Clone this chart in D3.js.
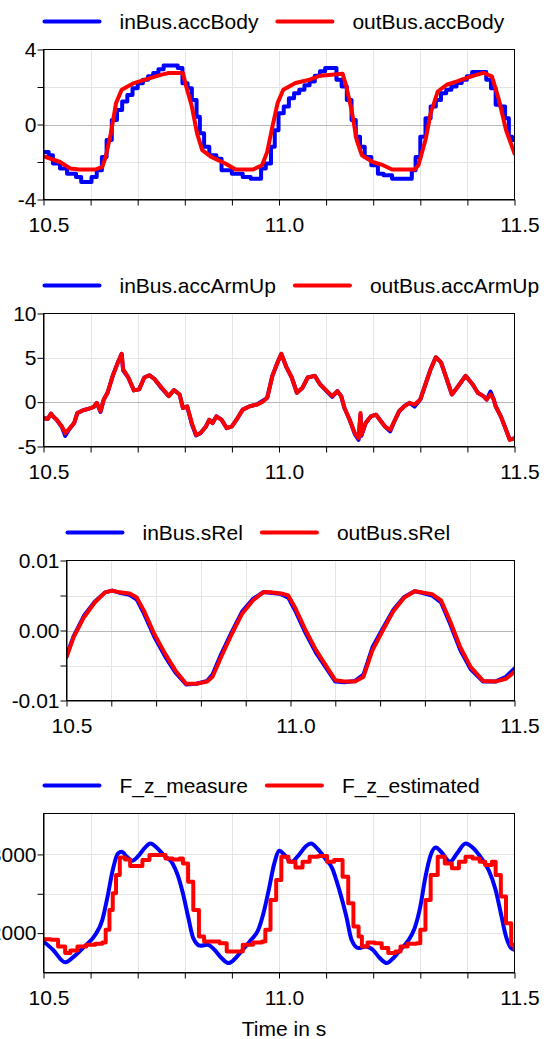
<!DOCTYPE html>
<html>
<head>
<meta charset="utf-8">
<script src="https://cdn.jsdelivr.net/npm/d3@7"></script>
<style>
body { margin: 0; background: #fff; }
</style>
</head>
<body>
<div id="viz"></div>
<script>

var width = 551
var height = 1039

// shared time axis
var xTicks = [10.5, 10.6, 10.7, 10.8, 10.9, 11.0, 11.1, 11.2, 11.3, 11.4, 11.5]
var xTickLabels = [10.5, 11.0, 11.5]

// panel 1 : accBody
var accBodyNames = ["inBus.accBody", "outBus.accBody"]
var accBodyInT = [10.500,10.511,10.520,10.535,10.550,10.569,10.580,10.602,10.613,10.624,10.634,10.645,10.656,10.667,10.678,10.689,10.700,10.711,10.722,10.733,10.744,10.755,10.785,10.795,10.806,10.815,10.825,10.832,10.841,10.852,10.867,10.878,10.900,10.923,10.940,10.962,10.972,10.983,10.991,10.999,11.010,11.021,11.032,11.043,11.054,11.065,11.076,11.087,11.098,11.122,11.133,11.144,11.154,11.163,11.172,11.182,11.196,11.210,11.222,11.240,11.282,11.290,11.300,11.311,11.322,11.333,11.344,11.355,11.366,11.377,11.388,11.399,11.410,11.440,11.450,11.460,11.470,11.480,11.488,11.495,11.500]
var accBodyInV = [-1.46,-1.64,-2.08,-2.35,-2.62,-2.80,-3.07,-2.80,-2.44,-1.73,-0.83,0.24,0.78,1.23,1.58,1.94,2.20,2.39,2.57,2.75,2.95,3.15,3.02,2.20,1.94,1.31,0.42,-0.47,-1.19,-1.64,-1.82,-2.44,-2.62,-2.80,-2.89,-2.35,-2.08,-1.19,-0.30,0.60,0.96,1.40,1.67,1.85,2.10,2.30,2.60,2.84,3.02,2.39,2.03,1.31,0.24,-0.65,-1.19,-1.73,-2.17,-2.62,-2.71,-2.89,-2.44,-1.73,-0.65,0.33,0.96,1.31,1.67,1.85,2.03,2.21,2.39,2.57,2.80,2.39,1.94,1.05,0.96,0.33,-0.65,-0.83,-0.83]
var accBodyOutT = [10.500,10.535,10.557,10.575,10.610,10.625,10.632,10.643,10.654,10.666,10.692,10.721,10.751,10.766,10.796,10.803,10.815,10.826,10.837,10.856,10.886,10.908,10.945,10.964,10.975,10.986,10.997,11.009,11.035,11.065,11.087,11.135,11.143,11.154,11.165,11.176,11.199,11.221,11.240,11.288,11.296,11.311,11.322,11.337,11.356,11.378,11.408,11.434,11.452,11.467,11.482,11.500]
var accBodyOutV = [-1.69,-2.00,-2.35,-2.40,-2.40,-2.26,-1.73,-0.47,1.14,1.85,2.21,2.43,2.66,2.75,2.75,2.03,0.96,-0.47,-1.37,-1.73,-2.08,-2.40,-2.40,-2.17,-1.46,-0.12,1.14,1.85,2.21,2.39,2.60,2.71,2.03,0.78,-0.83,-1.64,-2.00,-2.17,-2.40,-2.40,-2.17,-0.83,0.60,1.76,2.12,2.30,2.57,2.75,2.57,1.31,-0.30,-1.55]
var accBodyTicks = [-4, -2, 0, 2, 4]
var accBodyLabels = [-4, 0, 4]

// panel 2 : accArmUp
var accArmNames = ["inBus.accArmUp", "outBus.accArmUp"]
var accArmT = [10.5,10.509,10.516,10.52,10.528,10.539,10.546,10.554,10.565,10.572,10.584,10.595,10.606,10.613,10.621,10.628,10.636,10.647,10.658,10.666,10.669,10.68,10.692,10.703,10.714,10.725,10.736,10.751,10.766,10.777,10.789,10.796,10.805,10.815,10.824,10.833,10.845,10.852,10.859,10.867,10.878,10.889,10.9,10.912,10.923,10.938,10.953,10.964,10.975,10.986,10.997,11.005,11.016,11.027,11.038,11.05,11.061,11.076,11.087,11.102,11.113,11.124,11.132,11.139,11.15,11.161,11.169,11.173,11.175,11.184,11.195,11.206,11.214,11.225,11.236,11.243,11.255,11.266,11.277,11.288,11.3,11.311,11.322,11.333,11.344,11.355,11.367,11.378,11.396,11.411,11.422,11.434,11.441,11.449,11.456,11.46,11.471,11.482,11.49,11.5]
var accArmInV = [-1.79,-1.9,-1.29,-1.6,-1.98,-2.8,-3.8,-3.1,-2.36,-1.22,-0.91,-0.76,-0.57,-0.1,-1.1,0.3,1.06,2.97,4.49,5.44,3.6,2.78,1.33,1.44,2.78,3.04,2.59,1.55,0.68,1.37,0.87,-0.65,-0.5,-2.5,-3.75,-3.5,-2.74,-1.98,-2.36,-1.6,-1.98,-2.93,-2.74,-1.79,-0.84,-0.46,-0.27,0.1,0.49,2.97,4.49,5.44,3.92,2.78,1.06,1.63,2.78,2.97,2.02,1.2,0.6,1.25,0.68,-0.65,-1.98,-3.6,-4.25,-1.4,-3.8,-2.36,-1.6,-1.41,-1.98,-2.74,-3.3,-2.4,-1.03,-0.46,-0.08,-0.5,0.3,2.02,3.73,5.06,4.49,2.78,0.87,1.63,2.97,2.02,1.06,0.68,0.3,1.2,0.3,-0.46,-1.6,-3.12,-4.2,-4.1]
var accArmOutV = [-1.79,-1.9,-1.29,-1.6,-1.98,-2.74,-3.5,-3.04,-2.36,-1.22,-0.91,-0.76,-0.57,-0.08,-1.03,0.3,1.06,2.97,4.49,5.44,3.73,2.78,1.33,1.44,2.78,3.04,2.59,1.63,0.68,1.37,0.87,-0.65,-0.46,-2.36,-3.69,-3.5,-2.74,-1.98,-2.36,-1.6,-1.98,-2.93,-2.74,-1.79,-0.84,-0.46,-0.27,0,0.49,2.97,4.49,5.44,3.92,2.78,1.06,1.63,2.78,2.97,2.02,1.25,0.68,1.25,0.68,-0.65,-1.98,-3.5,-4.07,-1.22,-3.69,-2.36,-1.6,-1.41,-1.98,-2.74,-3.12,-2.36,-1.03,-0.46,-0.08,-0.27,0.3,2.02,3.73,5.06,4.49,2.78,0.87,1.63,2.97,2.02,1.06,0.68,0.3,0.87,0.3,-0.46,-1.6,-3.12,-4.26,-4.07]
var accArmTicks = [-5, 0, 5, 10]
var accArmLabels = [-5, 0, 5, 10]

// panel 3 : sRel
var sRelNames = ["inBus.sRel", "outBus.sRel"]
var sRelT = [10.5,10.516,10.539,10.563,10.586,10.602,10.618,10.641,10.657,10.673,10.696,10.72,10.743,10.767,10.79,10.814,10.826,10.845,10.869,10.892,10.916,10.94,10.955,10.979,10.995,11.01,11.034,11.057,11.081,11.1,11.12,11.144,11.163,11.183,11.206,11.23,11.254,11.277,11.293,11.316,11.336,11.356,11.379,11.402,11.43,11.457,11.481,11.5]
var sRelInV = [-0.0036,-0.0008,0.0021,0.0041,0.00545,0.0057,0.0054,0.0051,0.0044,0.0024,-0.0009,-0.0037,-0.006,-0.0077,-0.0076,-0.0072,-0.0063,-0.0034,-0.0002,0.0027,0.0045,0.0055,0.0054,0.0052,0.0047,0.0029,-0.0004,-0.0032,-0.0055,-0.0073,-0.0074,-0.0072,-0.0063,-0.0024,0.0003,0.003,0.0048,0.0056,0.0054,0.005,0.004,0.001,-0.0028,-0.0055,-0.0073,-0.0073,-0.0066,-0.0054]
var sRelOutV = [-0.0038,-0.00095,0.0019,0.004,0.00545,0.0057,0.00545,0.0053,0.0047,0.0028,-0.0005,-0.0033,-0.0057,-0.0076,-0.0076,-0.0073,-0.0066,-0.0038,-0.0005,0.0024,0.0043,0.0055,0.00545,0.0053,0.005,0.0033,0,-0.0028,-0.0052,-0.0071,-0.0073,-0.0073,-0.0066,-0.0028,0,0.0028,0.0047,0.0056,0.00545,0.0052,0.0043,0.0014,-0.0024,-0.0052,-0.0072,-0.0073,-0.0069,-0.0059]
var sRelTicks = [-0.01, -0.005, 0, 0.005, 0.01]
var sRelLabels = [-0.01, 0, 0.01]

// panel 4 : F_z
var fzNames = ["F_z_measure", "F_z_estimated"]
var fzMeasureT = [10.5,10.52,10.546,10.565,10.587,10.61,10.625,10.636,10.647,10.658,10.666,10.677,10.688,10.703,10.714,10.727,10.74,10.755,10.774,10.785,10.796,10.807,10.818,10.833,10.848,10.863,10.878,10.893,10.908,10.923,10.941,10.956,10.967,10.979,10.99,11.001,11.012,11.027,11.042,11.057,11.068,11.083,11.098,11.113,11.128,11.143,11.154,11.169,11.184,11.199,11.214,11.229,11.243,11.258,11.273,11.288,11.3,11.311,11.322,11.333,11.344,11.363,11.378,11.396,11.411,11.43,11.445,11.46,11.471,11.482,11.493,11.5]
var fzMeasureV = [1895,1789,1629,1705,1831,1979,2169,2464,2802,3013,3034,2970,2920,2992,3076,3139,3089,2992,2886,2738,2506,2211,1937,1840,1852,1789,1684,1620,1684,1789,1916,2042,2253,2570,2886,3046,2992,2907,2992,3105,3139,3063,2949,2823,2549,2211,1916,1810,1831,1789,1684,1620,1684,1789,1895,2063,2338,2717,2992,3089,3034,2907,3013,3139,3089,2949,2802,2549,2253,1958,1810,1789]
var fzEstT = [10.5,10.516,10.531,10.546,10.557,10.572,10.591,10.61,10.625,10.632,10.64,10.647,10.654,10.662,10.673,10.684,10.699,10.71,10.725,10.74,10.759,10.774,10.789,10.796,10.807,10.818,10.83,10.841,10.856,10.874,10.889,10.904,10.923,10.945,10.964,10.971,10.982,10.994,11.005,11.02,11.035,11.05,11.065,11.083,11.102,11.117,11.128,11.135,11.147,11.158,11.169,11.176,11.188,11.203,11.218,11.232,11.247,11.258,11.273,11.292,11.3,11.311,11.322,11.337,11.352,11.367,11.382,11.396,11.411,11.426,11.438,11.452,11.46,11.471,11.482,11.493,11.5]
var fzEstV = [1924,1916,1831,1747,1781,1831,1852,1865,1882,2042,2295,2506,2738,2962,2937,2852,2852,2928,2992,2992,2949,2937,2949,2886,2654,2295,1958,1895,1895,1873,1768,1768,1852,1882,1895,2042,2422,2675,2970,2907,2835,2907,2970,2979,2907,2928,2928,2717,2380,2084,1958,1831,1882,1873,1810,1747,1768,1831,1865,1873,2042,2422,2738,2970,2886,2823,2907,2970,2949,2907,2865,2907,2738,2464,2127,1852,1789]
var fzTicks = [2000, 2500, 3000]
var fzLabels = [2000, 3000]

function zip(t, v){ return t.map(function(d,i){ return {t:d, v:v[i]} }) }

var panels = [
	{left:43.5, right:514.5, top:49.5, bottom:199.5, domain:[-4,4], ticks:accBodyTicks, labels:accBodyLabels,
	 fmt:function(d){return String(d)}, names:accBodyNames,
	 series:[{data:zip(accBodyInT,accBodyInV), color:"#0000ff", curve:d3.curveStepAfter},
	         {data:zip(accBodyOutT,accBodyOutV), color:"#ff0000", curve:d3.curveLinear}]},
	{left:43.5, right:514.5, top:313.5, bottom:446.5, domain:[-5,10], ticks:accArmTicks, labels:accArmLabels,
	 fmt:function(d){return String(d)}, names:accArmNames,
	 series:[{data:zip(accArmT,accArmInV), color:"#0000ff", curve:d3.curveLinear},
	         {data:zip(accArmT,accArmOutV), color:"#ff0000", curve:d3.curveLinear}]},
	{left:66.5, right:514.5, top:560.5, bottom:700.5, domain:[-0.01,0.01], ticks:sRelTicks, labels:sRelLabels,
	 fmt:function(d){return d.toFixed(2)}, names:sRelNames,
	 series:[{data:zip(sRelT,sRelInV), color:"#0000ff", curve:d3.curveLinear},
	         {data:zip(sRelT,sRelOutV), color:"#ff0000", curve:d3.curveLinear}]},
	{left:43.5, right:514.5, top:813.5, bottom:972.5, domain:[1500,3520], ticks:fzTicks, labels:fzLabels,
	 fmt:function(d){return String(d)}, names:fzNames,
	 series:[{data:zip(fzMeasureT,fzMeasureV), color:"#0000ff", curve:d3.curveMonotoneX},
	         {data:zip(fzEstT,fzEstV), color:"#ff0000", curve:d3.curveStepAfter}]}
]

var font = "'Liberation Sans', Arial, sans-serif"

var canvas = d3.select("#viz")
	.append("svg")
	.attr("width", width)
	.attr("height", height)
	.style("display", "block")

panels.forEach(function(p, pi){

	var x = d3.scaleLinear().domain([10.5, 11.5]).range([p.left, p.right])
	var y = d3.scaleLinear().domain(p.domain).range([p.bottom, p.top])

	var g = canvas.append("g")

	g.append("clipPath").attr("id", "clip" + pi)
		.append("rect")
		.attr("x", p.left).attr("y", p.top)
		.attr("width", p.right - p.left).attr("height", p.bottom - p.top)

	// grid
	g.selectAll(".vgrid")
		.data(xTicks.slice(1, -1))
		.enter().append("line")
		.attr("x1", function(d){return Math.round(x(d)) + 0.5})
		.attr("x2", function(d){return Math.round(x(d)) + 0.5})
		.attr("y1", p.top).attr("y2", p.bottom)
		.attr("stroke", "#e4e4e4")

	g.selectAll(".hgrid")
		.data(p.ticks.filter(function(d){return y(d) > p.top + 1 && y(d) < p.bottom - 1}))
		.enter().append("line")
		.attr("x1", p.left).attr("x2", p.right)
		.attr("y1", function(d){return Math.round(y(d)) + 0.5})
		.attr("y2", function(d){return Math.round(y(d)) + 0.5})
		.attr("stroke", function(d){return d === 0 ? "#b8b8b8" : "#e4e4e4"})

	// curves
	var plot = g.append("g").attr("clip-path", "url(#clip" + pi + ")")
	p.series.forEach(function(s){
		var line = d3.line()
			.x(function(d){return x(d.t)})
			.y(function(d){return y(d.v)})
			.curve(s.curve)
		plot.append("path")
			.datum(s.data)
			.attr("d", line)
			.attr("fill", "none")
			.attr("stroke", s.color)
			.attr("stroke-width", 4)
			.attr("stroke-linejoin", "round")
			.attr("stroke-linecap", "round")
	})

	// frame
	g.append("rect")
		.attr("x", p.left).attr("y", p.top)
		.attr("width", p.right - p.left).attr("height", p.bottom - p.top)
		.attr("fill", "none").attr("stroke", "#000")

	// axes
	var xAxis = d3.axisBottom(x)
		.tickValues(xTicks)
		.tickSize(6)
		.tickSizeOuter(0)
		.tickPadding(12)
		.tickFormat(function(d){
			return xTickLabels.some(function(l){return Math.abs(l - d) < 1e-6}) ? d.toFixed(1) : ""
		})
	var gx = g.append("g")
		.attr("transform", "translate(0," + p.bottom + ")")
		.call(xAxis)
	gx.attr("font-family", font).attr("font-size", 21)
	gx.selectAll("text").attr("fill", "#000").attr("dx", 5)
	gx.selectAll("line").attr("stroke", "#000")
	gx.select(".domain").attr("stroke", "#000")

	var yAxis = d3.axisLeft(y)
		.tickValues(p.ticks)
		.tickSize(6)
		.tickSizeOuter(0)
		.tickPadding(1)
		.tickFormat(function(d){
			return p.labels.some(function(l){return Math.abs(l - d) < 1e-9}) ? p.fmt(d) : ""
		})
	var gy = g.append("g")
		.attr("transform", "translate(" + p.left + ",0)")
		.call(yAxis)
	gy.attr("font-family", font).attr("font-size", 21)
	gy.selectAll("text").attr("fill", "#000")
	gy.selectAll("line").attr("stroke", "#000")
	gy.select(".domain").attr("stroke", "#000")

	// legend
	var ly = p.top - 28
	var lx = p.left + 1
	p.names.forEach(function(name, i){
		g.append("line")
			.attr("x1", lx).attr("x2", lx + 55)
			.attr("y1", ly).attr("y2", ly)
			.attr("stroke", p.series[i].color)
			.attr("stroke-width", 4)
			.attr("stroke-linecap", "round")
		var t = g.append("text")
			.text(name)
			.attr("x", lx + 75)
			.attr("y", ly)
			.attr("dy", "0.35em")
			.attr("font-family", font)
			.attr("font-size", 21)
			.attr("fill", "#000")
		lx = lx + 75 + t.node().getComputedTextLength() + 19
	})
})

canvas.append("text")
	.text("Time in s")
	.attr("x", (43.5 + 514.5) / 2 + 5)
	.attr("y", 1036)
	.attr("text-anchor", "middle")
	.attr("font-family", font)
	.attr("font-size", 21)
	.attr("fill", "#000")

</script>
</body>
</html>
